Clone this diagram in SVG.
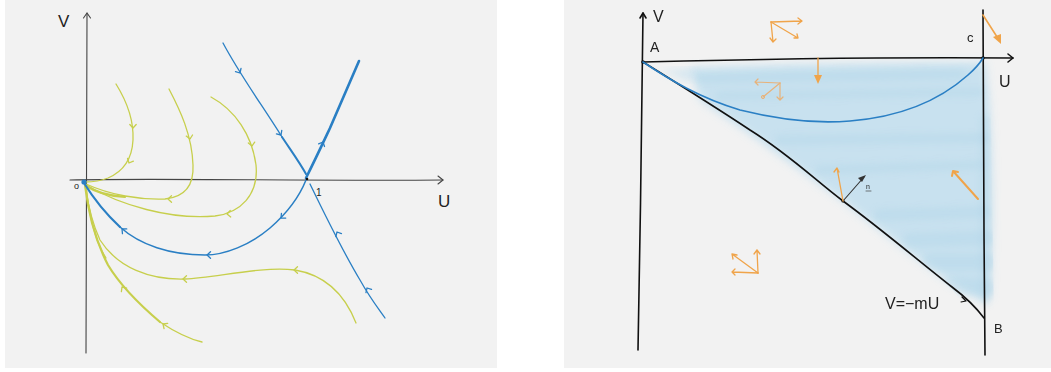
<svg xmlns="http://www.w3.org/2000/svg" width="1051" height="372" viewBox="0 0 1051 372">
<defs>
<style>
.ax{fill:none;stroke:#444;stroke-width:1.1;stroke-linecap:round;stroke-linejoin:round}
.bk{fill:none;stroke:#111;stroke-width:1.6;stroke-linecap:round;stroke-linejoin:round}
.bl{fill:none;stroke:#2a7fc4;stroke-width:1.3;stroke-linecap:round;stroke-linejoin:round}
.blt{fill:none;stroke:#2a7fc4;stroke-width:2.6;stroke-linecap:round;stroke-linejoin:round}
.yl{fill:none;stroke:#c7cf4c;stroke-width:1.3;stroke-linecap:round;stroke-linejoin:round}
.ylt{fill:none;stroke:#c7cf4c;stroke-width:2.2;stroke-linecap:round;stroke-linejoin:round}
.or{fill:none;stroke:#f0a44a;stroke-width:1.3;stroke-linecap:round;stroke-linejoin:round}
.orl{fill:none;stroke:#e8b27a;stroke-width:1.2;stroke-linecap:round;stroke-linejoin:round}
.t{font-family:"Liberation Sans",Arial,sans-serif;fill:#222}
.wash{fill:none;stroke:#aed3e8;stroke-linecap:round;opacity:0.35}
</style>
<path id="chev" d="M-3.5,-3.2 L0,0 L-3.5,3.2"/>
<filter id="soft" x="-10%" y="-10%" width="120%" height="120%"><feGaussianBlur stdDeviation="4"/></filter>
<filter id="soft2" x="-10%" y="-50%" width="120%" height="200%"><feGaussianBlur stdDeviation="3"/></filter>
<clipPath id="tri"><path d="M670,62 L990,56 L994,320 L975,318 L952,289 L843,202 L750,132 L690,92 Z"/></clipPath>
</defs>
<rect width="1051" height="372" fill="#ffffff"/>
<rect x="5" y="0" width="492" height="368" fill="#f2f2f2"/>
<rect x="564" y="0" width="487" height="368" fill="#f2f2f2"/>

<g id="left-axes">
<path class="ax" d="M87,13 L86,353"/>
<path class="ax" d="M83.5,18 L87,13 L90.5,18"/>
<path class="ax" d="M70,180 C150,178 300,181 443,180"/>
<path class="ax" d="M438,176 L443,180 L438,184"/>
<text class="t" x="58" y="27" font-size="17">V</text>
<text class="t" x="438" y="207" font-size="17">U</text>
<text class="t" x="74" y="189" font-size="9">o</text>
<text class="t" x="316" y="196" font-size="10">1</text>
</g>

<g id="connectors">
<g id="yellow">
<path class="yl" d="M116,84 C126,100 134,118 133,140 C132,160 122,172 108,178 C98,182 90,182 85,182"/>
<path class="yl" d="M169,89 C180,110 192,135 193,165 C194,185 185,197 165,199 C140,200 110,195 86,184"/>
<path class="yl" d="M211,97 C235,110 252,135 256,165 C259,195 240,213 215,216 C170,220 120,205 86,185"/>
<path class="yl" d="M356,323 C345,295 325,275 295,270 C260,266 215,278 185,279 C150,280 118,268 100,240 C93,225 88,205 85,185"/>
<path class="yl" d="M202,342 C185,338 172,330 160,322"/>
<path class="ylt" d="M160,322 C140,305 120,285 108,265 C95,240 88,210 85,185"/>
<path class="yl" d="M86,185 C89,215 94,240 106,258"/>
<path class="ylt" d="M85,185 C95,192 110,196 125,197"/>
<g class="yl">
<use href="#chev" transform="translate(133,128) rotate(90)"/>
<use href="#chev" transform="translate(129,163) rotate(115)"/>
<use href="#chev" transform="translate(190,139) rotate(80)"/>
<use href="#chev" transform="translate(168,199) rotate(180)"/>
<use href="#chev" transform="translate(252,146) rotate(82)"/>
<use href="#chev" transform="translate(227,214) rotate(176)"/>
<use href="#chev" transform="translate(294,270) rotate(180)"/>
<use href="#chev" transform="translate(183,279) rotate(180)"/>
<use href="#chev" transform="translate(163,324) rotate(-145)"/>
<use href="#chev" transform="translate(122,287) rotate(-125)"/>
</g>
</g>
<g id="blue">
<path class="bl" d="M223,43 C240,75 262,105 282,137"/>
<path class="blt" style="stroke-width:2" d="M282,137 C292,152 300,163 306,174"/>
<path class="blt" d="M306,178 C315,160 322,145 330,128 C340,105 350,82 359,61"/>
<path class="bl" style="stroke-width:1.5" d="M306,180 C298,200 285,215 270,228 C250,245 225,255 205,255 C170,255 140,245 120,227"/>
<path class="blt" style="stroke-width:2.2" d="M120,227 C105,213 92,196 84,183"/>
<path class="bl" d="M310,184 C325,215 345,255 360,280 C370,298 378,308 385,318"/>
<g class="bl">
<use href="#chev" transform="translate(240,73) rotate(60)"/>
<use href="#chev" transform="translate(281,135) rotate(57)"/>
<use href="#chev" transform="translate(323,142) rotate(-66)"/>
<use href="#chev" transform="translate(281,218) rotate(138)"/>
<use href="#chev" transform="translate(207,255) rotate(180)"/>
<use href="#chev" transform="translate(122,229) rotate(-138)"/>
<use href="#chev" transform="translate(337,232) rotate(-118)"/>
<use href="#chev" transform="translate(367,288) rotate(-120)"/>
</g>
<circle cx="84" cy="182" r="2.6" fill="#2a7fc4"/>
<circle cx="307" cy="179" r="1.3" fill="#111"/>
</g>
</g>

<g id="right-panel">
<g id="wash">
<path d="M690,68 C760,64 900,63 985,62 C992,110 995,200 990,300 L975,298 C960,290 950,283 935,272 C890,238 860,215 843,201 C800,170 760,140 700,100 Z" fill="#c4e0ef" opacity="0.9" filter="url(#soft)"/>
<path d="M660,70 L700,68 L690,82 Z" fill="#c4e0ef" opacity="0.6" filter="url(#soft)"/>
<g clip-path="url(#tri)" filter="url(#soft2)">
<path class="wash" stroke-width="10" d="M700,78 L960,74"/>
<path class="wash" stroke-width="8" d="M720,96 L980,92"/>
<path class="wash" stroke-width="10" d="M780,140 L985,138"/>
<path class="wash" stroke-width="9" d="M820,170 L980,165"/>
<path class="wash" stroke-width="12" d="M880,215 L985,212"/>
<path class="wash" stroke-width="14" d="M910,240 L990,238"/>
<path class="wash" stroke-width="16" d="M930,262 L990,262"/>
<path class="wash" stroke-width="16" d="M950,285 L990,288"/>
<path class="wash" stroke-width="10" d="M985,120 L985,300"/>
</g>
</g>
<g id="axes-right">
<path class="bk" d="M643,13 C642,120 640,240 638,350"/>
<path class="bk" d="M640,18 L643,13 L646,18"/>
<path class="bk" d="M643,62 C760,59 880,57 1013,58"/>
<path class="bk" d="M1008,54 L1013,58 L1008,62"/>
<path class="bk" d="M983,10 C983,120 984,240 985,355"/>
<path class="bk" d="M643,62 C680,85 720,110 750,130 C790,155 815,180 843,201 C880,228 920,262 952,287 C964,296 975,306 984,318"/>
<path class="bk" style="stroke-width:1.2" d="M962,297 L966,301 L961,302"/>
<circle cx="643" cy="62" r="1.8" fill="#111"/>
<circle cx="983" cy="58" r="1.8" fill="#111"/>
<circle cx="843" cy="201" r="1.6" fill="#111"/>
</g>
<path class="bl" style="stroke-width:1.6" d="M643,62 C670,80 700,98 740,110 C780,120 815,124 850,121 C900,117 940,100 968,75 C976,68 980,63 983,58"/>
<text class="t" x="653" y="22" font-size="16">V</text>
<text class="t" x="650" y="52" font-size="14">A</text>
<text class="t" x="967" y="42" font-size="13">c</text>
<text class="t" x="999" y="87" font-size="16">U</text>
<text class="t" x="994" y="333" font-size="13">B</text>
<text class="t" x="885" y="309" font-size="16">V=−mU</text>
<g id="normal">
<path class="ax" style="stroke:#333" d="M843,201 L864,177"/>
<path d="M866,175 L858,178 L862,182 Z" fill="#333"/>
<text class="t" x="866" y="189" font-size="7">n</text>
<path class="ax" style="stroke-width:0.7" d="M866,191 L871,191"/>
</g>
<g id="orange">
<path class="or" d="M771,22 L802,21 M798,18 L802,21 L798,24"/>
<path class="or" d="M771,22 L773,42 M770,38 L773,42 L776,39"/>
<path class="or" d="M771,22 L798,38 M794,38 L798,38 L797,34"/>
<path class="or" d="M818,58 L818,81"/>
<path d="M814,75 L818,84 L822,75 Z" fill="#f0a44a"/>
<path class="orl" d="M780,83 L755,82 M758,79 L755,82 L758,85"/>
<path class="orl" d="M780,83 L763,97"/>
<circle cx="763" cy="97" r="1.6" fill="none" stroke="#e8b27a"/>
<path class="orl" d="M780,83 L780,100 M777,97 L780,100 L783,97"/>
<path class="or" d="M843,201 L837,168 M834,172 L837,168 L839,172"/>
<path class="or" style="stroke-width:2" d="M978,199 L953,171 M952,176 L953,171 L958,172"/>
<path class="or" style="stroke-width:1.6" d="M983,15 L999,40"/>
<path d="M993,37 L1001,44 L1001,34 Z" fill="#f0a44a"/>
<path class="or" d="M758,273 L732,254 M733,259 L732,254 L737,255"/>
<path class="or" d="M758,273 L732,272 M735,269 L732,272 L735,275"/>
<path class="or" d="M758,273 L757,250 M754,254 L757,250 L760,254"/>
</g>
</g>
</svg>
